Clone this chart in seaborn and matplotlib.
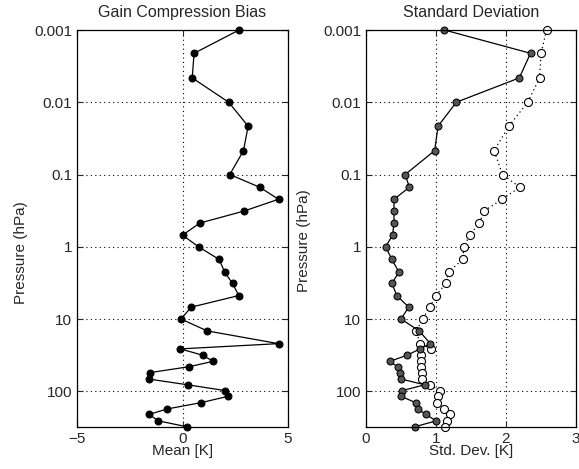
import numpy as np
import pandas as pd
import seaborn as sns
import matplotlib.pyplot as plt
from matplotlib.ticker import FixedLocator, FixedFormatter, NullLocator

# Pressure levels (hPa), top of atmosphere first
pressure = [0.001, 0.0021, 0.0046, 0.01, 0.0214, 0.0468, 0.1, 0.15, 0.22, 0.32,
            0.47, 0.69, 1.0, 1.5, 2.24, 3.22, 4.73, 6.85, 10, 14.6,
            21.9, 25.9, 31.6, 38.5, 45.7, 55.0, 67.6, 81.3, 97.7, 117.5,
            143.6, 175.8, 208.9, 257.0, 309.0]

# Gain compression bias (mean, K)
mean_bias = [2.68, 0.55, 0.46, 2.19, 3.11, 2.89, 2.24, 3.66, 4.55, 2.92,
             0.82, 0.0, 0.76, 1.74, 2.0, 2.37, 2.67, 0.41, -0.07, 1.17,
             4.55, -0.11, 0.95, 1.45, 0.31, -1.52, -1.61, 0.24, 2.02, 2.15,
             0.88, -0.74, -1.58, -1.14, 0.2]

# Standard deviations (K): filled = with correction, open = without
std_filled = [1.12, 2.35, 2.19, 1.29, 1.03, 0.98, 0.56, 0.62, 0.40, 0.40,
              0.40, 0.38, 0.28, 0.37, 0.47, 0.37, 0.44, 0.61, 0.50, 0.76,
              0.92, 0.77, 0.59, 0.34, 0.45, 0.48, 0.50, 0.84, 0.52, 0.50,
              0.71, 0.74, 0.86, 1.00, 0.70]
std_open = [2.58, 2.50, 2.48, 2.31, 2.04, 1.83, 1.95, 2.20, 1.94, 1.69,
            1.62, 1.48, 1.40, 1.38, 1.18, 1.14, 1.00, 0.91, 0.81, 0.72,
            0.77, 0.93, 0.78, 0.78, 0.78, 0.80, 0.80, 0.91, 1.05, 1.03,
            1.01, 1.11, 1.20, 1.16, 1.13]

y_ticks = [0.001, 0.01, 0.1, 1, 10, 100]
y_ticklabels = ['0.001', '0.01', '0.1', '1', '10', '100']

df = pd.DataFrame({'p': pressure, 'mean': mean_bias,
                   'sd1': std_filled, 'sd2': std_open})

sns.set_style('ticks')
plt.rcParams['font.family'] = ['Liberation Sans', 'DejaVu Sans']
plt.rcParams['font.size'] = 11

fig = plt.figure(figsize=(5.79, 4.69), dpi=100)
ax1 = fig.add_axes([77 / 579, 1 - 427 / 469, 211 / 579, 397 / 469])
ax2 = fig.add_axes([366 / 579, 1 - 427 / 469, 210 / 579, 397 / 469])

# Left: mean bias
sns.lineplot(data=df, x='mean', y='p', sort=False, estimator=None, ax=ax1,
             color='black', linewidth=0.9, marker='o', markersize=5,
             markerfacecolor='black', markeredgecolor='black', clip_on=False)

# Right: standard deviations
sns.lineplot(data=df, x='sd2', y='p', sort=False, estimator=None, ax=ax2,
             color='black', linewidth=0.9, linestyle=(0, (1, 2.5)), marker='o',
             markersize=5.8, markerfacecolor='white', markeredgecolor='black',
             markeredgewidth=0.8, clip_on=False)
sns.lineplot(data=df, x='sd1', y='p', sort=False, estimator=None, ax=ax2,
             color='black', linewidth=0.9, marker='o', markersize=5,
             markerfacecolor='#555555', markeredgecolor='black', clip_on=False)

for ax in (ax1, ax2):
    ax.set_yscale('log')
    ax.set_ylim(312, 0.001)
    ax.yaxis.set_major_locator(FixedLocator(y_ticks))
    ax.yaxis.set_major_formatter(FixedFormatter(y_ticklabels))
    ax.yaxis.set_minor_locator(NullLocator())
    ax.set_ylabel('Pressure (hPa)', fontsize=11)
    ax.grid(True, which='major', linestyle=(0, (1, 3)), color='black', linewidth=0.8)
    ax.tick_params(direction='in', length=4, top=True, right=True, labelsize=11)
    for s in ax.spines.values():
        s.set_linewidth(0.9)
        s.set_color('black')

ax1.yaxis.set_label_coords(-0.232, 0.44)
ax2.yaxis.set_label_coords(-0.262, 0.47)

ax1.set_xlim(-5, 5)
ax1.set_xticks([-5, 0, 5])
ax1.set_xlabel('Mean [K]', fontsize=11, labelpad=-1)
ax1.set_title('Gain Compression Bias', fontsize=11.5, pad=9.5)

ax2.set_xlim(0, 3)
ax2.set_xticks([0, 1, 2, 3])
ax2.set_xlabel('Std. Dev. [K]', fontsize=11, labelpad=-1)
ax2.set_title('Standard Deviation', fontsize=11.5, pad=9.5)

fig.savefig('out.png', dpi=100)
